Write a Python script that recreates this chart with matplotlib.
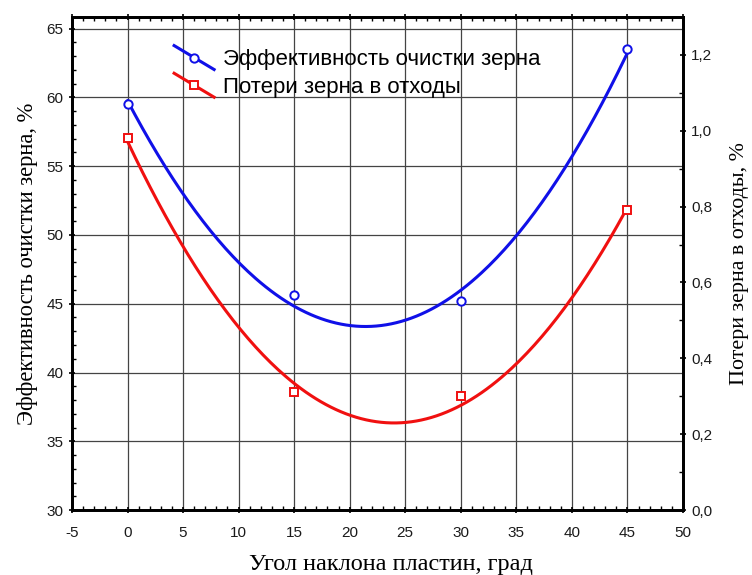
import matplotlib
matplotlib.use("Agg")
import matplotlib.pyplot as plt
import numpy as np
from matplotlib.lines import Line2D
from matplotlib.legend_handler import HandlerBase
from matplotlib.ticker import MultipleLocator, FuncFormatter

plt.rcParams["axes.unicode_minus"] = False

# угол наклона пластин, град
angle = [0, 15, 30, 45]
# эффективность очистки зерна, %
efficiency = [59.5, 45.6, 45.2, 63.5]
# потери зерна в отходы, %
losses = [0.98, 0.31, 0.30, 0.79]

blue = "#1010e8"
red = "#f01010"


class SlantHandler(HandlerBase):
    # Statistica-style legend key: slanted line with marker in the middle
    def create_artists(self, legend, orig_handle, xdescent, ydescent,
                       width, height, fontsize, trans):
        c = orig_handle.get_color()
        ln = Line2D([0, width], [height * 1.27, -height * 0.27], color=c, lw=2.2, transform=trans)
        mk = Line2D([width / 2], [height * 0.5], marker=orig_handle.get_marker(),
                    ms=6, mfc="white", mec=c, mew=1.4, ls="none", transform=trans)
        return [ln, mk]


fig = plt.figure(figsize=(7.52, 5.75), dpi=100)
ax = fig.add_axes([0.0957, 0.113, 0.8125, 0.8574])
ax2 = ax.twinx()

xs = np.linspace(0, 45, 200)
p1 = np.polyfit(angle, efficiency, 2)
p2 = np.polyfit(angle, losses, 2)

ax.plot(xs, np.polyval(p1, xs), color=blue, lw=2.2, zorder=3)
ax.plot(angle, efficiency, "o", ms=6, mfc="white", mec=blue, mew=1.4, zorder=4)
ax2.plot(xs, np.polyval(p2, xs), color=red, lw=2.2, zorder=3)
ax2.plot(angle, losses, "s", ms=6, mfc="white", mec=red, mew=1.4, zorder=4)

ax.set_xlim(-5, 50)
ax.set_ylim(30, 65.85)
ax2.set_ylim(0, 1.3)

ax.xaxis.set_major_locator(MultipleLocator(5))
ax.xaxis.set_minor_locator(MultipleLocator(1))
ax.yaxis.set_major_locator(MultipleLocator(5))
ax.yaxis.set_minor_locator(MultipleLocator(1))
ax2.yaxis.set_major_locator(MultipleLocator(0.2))
ax2.yaxis.set_minor_locator(MultipleLocator(0.1))
ax2.yaxis.set_major_formatter(FuncFormatter(lambda v, p: f"{v:.1f}".replace(".", ",")))

ax.grid(True, which="major", color="#444444", lw=0.9)
ax.set_axisbelow(True)

for a in (ax, ax2):
    for s in a.spines.values():
        s.set_linewidth(2)
    a.tick_params(which="major", direction="inout", length=5, width=1.2,
                  labelsize=11, labelcolor="#1a1a1a",
                  labelfontfamily="Liberation Sans")
    a.tick_params(which="minor", direction="in", length=3, width=1)
ax.tick_params(axis="x", which="both", top=True)
ax.tick_params(axis="x", which="major", pad=9)

ax.set_xlabel("Угол наклона пластин, град", family="Liberation Serif", fontsize=17.5)
ax.xaxis.set_label_coords(0.522, -0.09)
ax.set_ylabel("Эффективность очистки зерна, %", family="Liberation Serif", fontsize=16.3, labelpad=6)
ax2.set_ylabel("Потери зерна в отходы, %", family="Liberation Serif", fontsize=15.8, labelpad=13)

h1 = Line2D([], [], color=blue, marker="o")
h2 = Line2D([], [], color=red, marker="s")
leg = ax.legend([h1, h2], ["Эффективность очистки зерна", "Потери зерна в отходы"],
                handler_map={Line2D: SlantHandler()}, loc="upper left",
                bbox_to_anchor=(0.149, 0.957), frameon=False, borderpad=0,
                prop={"family": "Liberation Sans", "size": 16},
                handlelength=1.8, handletextpad=0.4, labelspacing=0.3)

fig.savefig("out.png", dpi=100)
